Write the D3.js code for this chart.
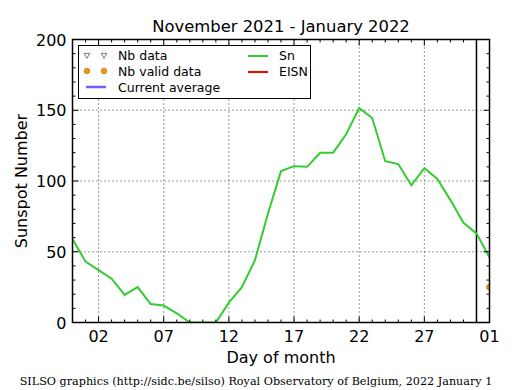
<!DOCTYPE html>
<html><head><meta charset="utf-8">
<script src="https://cdn.jsdelivr.net/npm/d3@7"></script>
<style>body{margin:0;background:#fff}svg{display:block}</style>
</head><body>
<script>
// Data: day index (0 = Nov 30, 32 = Jan 1)
const days = [0,1,2,3,4,5,6,7,8,9,10,11,12,13,14,15,16,17,18,19,20,21,22,23,24,25,26,27,28,29,30,31,32];
const sn   = [59,43,37,31,19.5,25,13,12,6.5,0,0,0,14,25,44,77,107,110.5,110,120,120,133,151.5,144.5,114,112,97,109,101.5,86.5,70.5,63,46];
const validDays = [32];
const validVals = [25];
const xTickDays = [2,7,12,17,22,27,32];
const xTickLabels = ["02","07","12","17","22","27","01"];
const yTicks = [0,50,100,150,200];
const currentDay = 31;
const title = "November 2021 - January 2022";

const W = 515, H = 390;
const L = 72.5, R = 489.5, T = 39.5, B = 322.5;
const svg = d3.select("body").append("svg").attr("width", W).attr("height", H)
  .style("font-family", "DejaVu Sans, sans-serif");
const x = d3.scaleLinear().domain([0,32]).range([L,R]);
const y = d3.scaleLinear().domain([0,200]).range([B,T]);

// grid
const g = svg.append("g");
xTickDays.forEach(d => g.append("line").attr("x1",x(d)).attr("x2",x(d)).attr("y1",T).attr("y2",B)
  .attr("stroke","#000").attr("stroke-width",0.8).attr("stroke-dasharray","1,3"));
yTicks.forEach(v => g.append("line").attr("x1",L).attr("x2",R).attr("y1",y(v)).attr("y2",y(v))
  .attr("stroke","#000").attr("stroke-width",0.8).attr("stroke-dasharray","1,3"));

// clip
svg.append("clipPath").attr("id","clip").append("rect").attr("x",L).attr("y",T).attr("width",R-L).attr("height",B-T);

// current day line
svg.append("line").attr("x1",x(currentDay)).attr("x2",x(currentDay)).attr("y1",T).attr("y2",B)
  .attr("stroke","#000").attr("stroke-width",1.5);

// Sn line
svg.append("path").datum(days.map((d,i)=>[d,sn[i]])).attr("clip-path","url(#clip)")
  .attr("d", d3.line().x(d=>x(d[0])).y(d=>y(d[1])))
  .attr("fill","none").attr("stroke","#33cc33").attr("stroke-width",2);

// valid data dots
svg.append("g").attr("clip-path","url(#clip)").selectAll("circle").data(validDays).join("circle")
  .attr("cx",(d)=>x(d)).attr("cy",(d,i)=>y(validVals[i])).attr("r",3)
  .attr("fill","#ff9900").attr("stroke","#7a5a00").attr("stroke-width",0.5);

// axes with inward ticks
function axisTicks(){
  const a = svg.append("g").attr("stroke","#000").attr("stroke-width",1);
  for (let d=0; d<=32; d++){
    const major = xTickDays.includes(d);
    const len = major ? 6 : 3;
    a.append("line").attr("x1",x(d)).attr("x2",x(d)).attr("y1",B).attr("y2",B-len);
    a.append("line").attr("x1",x(d)).attr("x2",x(d)).attr("y1",T).attr("y2",T+len);
  }
  for (let v=0; v<=200; v+=10){
    const major = v%50===0;
    const len = major ? 6 : 3;
    a.append("line").attr("x1",L).attr("x2",L+len).attr("y1",y(v)).attr("y2",y(v));
    a.append("line").attr("x1",R).attr("x2",R-len).attr("y1",y(v)).attr("y2",y(v));
  }
}
axisTicks();
svg.append("rect").attr("x",L).attr("y",T).attr("width",R-L).attr("height",B-T)
  .attr("fill","none").attr("stroke","#000").attr("stroke-width",1.5);

// tick labels
xTickDays.forEach((d,i)=> svg.append("text").attr("x",x(d)).attr("y",B+19).attr("text-anchor","middle")
  .attr("font-size",16).text(xTickLabels[i]));
yTicks.forEach(v=> svg.append("text").attr("x",L-6).attr("y",y(v)+6).attr("text-anchor","end")
  .attr("font-size",16).text(v));

// title and labels
svg.append("text").attr("x",(L+R)/2).attr("y",32).attr("text-anchor","middle").attr("font-size",16.4).text(title);
svg.append("text").attr("x",(L+R)/2).attr("y",363).attr("text-anchor","middle").attr("font-size",16).text("Day of month");
svg.append("text").attr("transform",`translate(27,${(T+B)/2}) rotate(-90)`).attr("text-anchor","middle")
  .attr("font-size",16).text("Sunspot Number");

// footer
svg.append("text").attr("x",256).attr("y",385).attr("text-anchor","middle")
  .attr("font-family","DejaVu Serif, serif").attr("font-size",11.2)
  .text("SILSO graphics (http://sidc.be/silso) Royal Observatory of Belgium, 2022 January 1");

// legend
const lg = svg.append("g");
lg.append("rect").attr("x",78.5).attr("y",45.5).attr("width",232).attr("height",53)
  .attr("fill","#fff").attr("stroke","#000").attr("stroke-width",1);
const fs = 12.5;
[[87,55],[104,55]].forEach(p=> lg.append("path").attr("d",d3.symbol(d3.symbolTriangle,14)())
  .attr("transform",`translate(${p[0]},${p[1]}) rotate(180)`).attr("fill","#fff").attr("stroke","#555").attr("stroke-width",0.8));
[[87,71],[104,71]].forEach(p=> lg.append("circle").attr("cx",p[0]).attr("cy",p[1]).attr("r",2.8)
  .attr("fill","#ff9900").attr("stroke","#7a5a00").attr("stroke-width",0.5));
lg.append("line").attr("x1",86).attr("x2",106).attr("y1",87).attr("y2",87).attr("stroke","#6666ff").attr("stroke-width",2.5);
lg.append("text").attr("x",118).attr("y",60).attr("font-size",fs).text("Nb data");
lg.append("text").attr("x",118).attr("y",76).attr("font-size",fs).text("Nb valid data");
lg.append("text").attr("x",118).attr("y",92).attr("font-size",fs).text("Current average");
lg.append("line").attr("x1",248).attr("x2",268).attr("y1",56).attr("y2",56).attr("stroke","#33cc33").attr("stroke-width",2);
lg.append("line").attr("x1",248).attr("x2",268).attr("y1",72).attr("y2",72).attr("stroke","#ff0000").attr("stroke-width",2);
lg.append("text").attr("x",279).attr("y",60).attr("font-size",fs).text("Sn");
lg.append("text").attr("x",279).attr("y",76).attr("font-size",fs).text("EISN");
</script>
</body></html>
